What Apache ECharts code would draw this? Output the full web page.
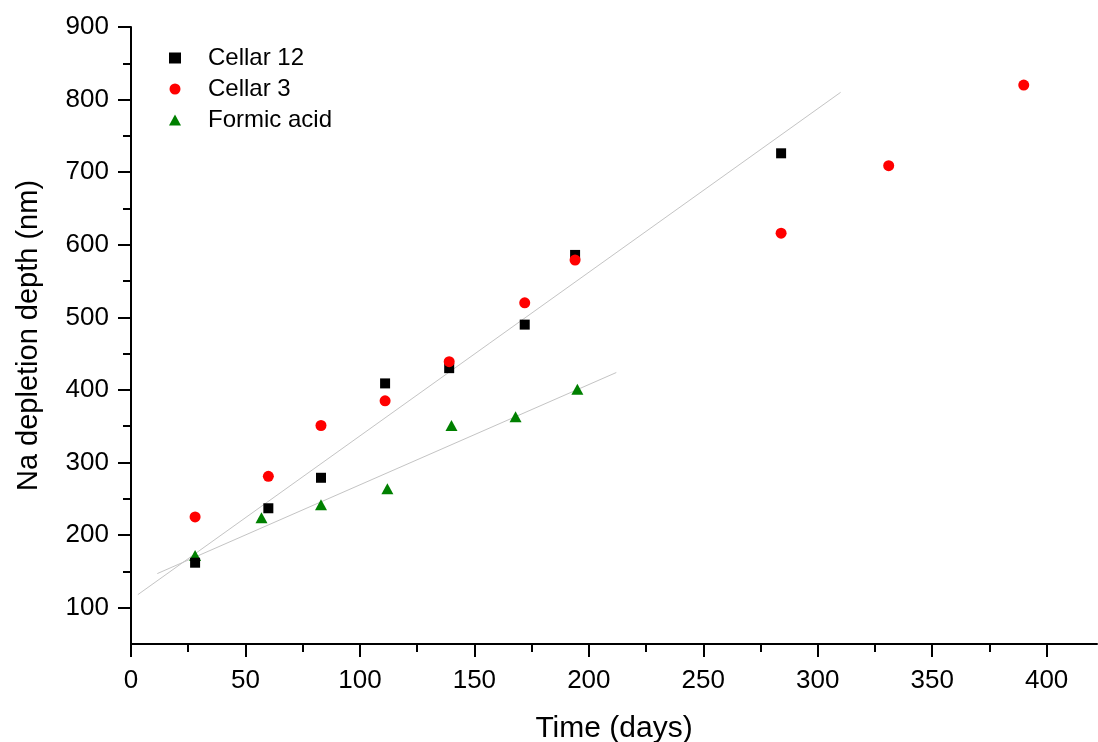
<!DOCTYPE html>
<html>
<head>
<meta charset="utf-8">
<script src="https://cdn.jsdelivr.net/npm/echarts@6/dist/echarts.min.js"></script>
<style>
html,body{margin:0;padding:0;background:#fff;}
#c{width:1098px;height:742px;}
</style>
</head>
<body>
<div id="c"></div>
<script>
// ---- data ----
var cellar12X = [28, 60, 83, 111, 139, 172, 194, 284];
var cellar12Y = [162, 237, 279, 409, 430, 490, 586, 726];
var cellar3X = [28, 60, 83, 111, 139, 172, 194, 284, 331, 390];
var cellar3Y = [225, 281, 351, 385, 439, 520, 579, 616, 709, 820];
var formicX = [28, 57, 83, 112, 140, 168, 195];
var formicY = [172, 224, 242, 264, 351, 363, 401];
// fit lines (endpoints)
var fit1X = [3, 310];
var fit1Y = [118, 810];
var fit2X = [11.5, 212];
var fit2Y = [147, 424];
// ticks
var xMajorTicks = [0, 50, 100, 150, 200, 250, 300, 350, 400];
var xMinorTicks = [25, 75, 125, 175, 225, 275, 325, 375];
var yMajorTicks = [100, 200, 300, 400, 500, 600, 700, 800, 900];
var yMinorTicks = [150, 250, 350, 450, 550, 650, 750, 850];

function pairs(xs, ys) { return xs.map(function (x, i) { return [x, ys[i]]; }); }

var FONT = '"Liberation Sans", Arial, Helvetica, sans-serif';
var chart = echarts.init(document.getElementById('c'), null, {renderer: 'canvas'});
var axisLine = {show: true, lineStyle: {color: '#000', width: 2}};

chart.setOption({
  animation: false,
  backgroundColor: '#fff',
  textStyle: {fontFamily: FONT},
  grid: {left: 131, right: 1, top: 27, bottom: 98, containLabel: false, outerBoundsMode: 'none'},
  legend: {
    orient: 'vertical',
    left: 164,
    top: 41,
    itemWidth: 12,
    itemHeight: 11,
    itemGap: 7,
    data: ['Cellar 12', 'Cellar 3', 'Formic acid'],
    textStyle: {fontFamily: FONT, fontSize: 24, color: '#000', padding: [0, 0, 0, 22], lineHeight: 24}
  },
  xAxis: [{
    type: 'value', min: 0, max: 422, interval: 50,
    name: 'Time (days)', nameLocation: 'middle', nameGap: 70,
    nameTextStyle: {fontFamily: FONT, fontSize: 30, color: '#000'},
    axisLine: axisLine,
    axisTick: {show: true, inside: false, length: 13, lineStyle: {color: '#000', width: 2}, customValues: xMajorTicks},
    axisLabel: {show: true, fontFamily: FONT, fontSize: 26, color: '#000', margin: 24, customValues: xMajorTicks},
    splitLine: {show: false}
  }, {
    type: 'value', min: 0, max: 422, position: 'bottom',
    axisLine: {show: false},
    axisTick: {show: true, inside: false, length: 8, lineStyle: {color: '#000', width: 2}, customValues: xMinorTicks},
    axisLabel: {show: false},
    splitLine: {show: false}
  }],
  yAxis: [{
    type: 'value', min: 50, max: 900,
    name: 'Na depletion depth (nm)', nameLocation: 'middle', nameGap: 88,
    nameTextStyle: {fontFamily: FONT, fontSize: 29, color: '#000'},
    axisLine: axisLine,
    axisTick: {show: true, inside: false, length: 13, lineStyle: {color: '#000', width: 2}, customValues: yMajorTicks},
    axisLabel: {show: true, fontFamily: FONT, fontSize: 26, color: '#000', margin: 22, customValues: yMajorTicks},
    splitLine: {show: false}
  }, {
    type: 'value', min: 50, max: 900, position: 'left',
    axisLine: {show: false},
    axisTick: {show: true, inside: false, length: 8, lineStyle: {color: '#000', width: 2}, customValues: yMinorTicks},
    axisLabel: {show: false},
    splitLine: {show: false}
  }],
  series: [{
    name: 'fit1', type: 'line', data: pairs(fit1X, fit1Y), symbol: 'none', silent: true,
    lineStyle: {color: '#c4c4c4', width: 1}, z: 1
  }, {
    name: 'fit2', type: 'line', data: pairs(fit2X, fit2Y), symbol: 'none', silent: true,
    lineStyle: {color: '#c4c4c4', width: 1}, z: 1
  }, {
    name: 'Cellar 12', type: 'scatter', data: pairs(cellar12X, cellar12Y),
    symbol: 'rect', symbolSize: 10, itemStyle: {color: '#000', opacity: 1}, z: 3
  }, {
    name: 'Cellar 3', type: 'scatter', data: pairs(cellar3X, cellar3Y),
    symbol: 'circle', symbolSize: 11, itemStyle: {color: '#ff0000', opacity: 1}, z: 4
  }, {
    name: 'Formic acid', type: 'scatter', data: pairs(formicX, formicY),
    symbol: 'triangle', symbolSize: [12, 11], itemStyle: {color: '#008000', opacity: 1}, z: 2
  }]
});
</script>
</body>
</html>
